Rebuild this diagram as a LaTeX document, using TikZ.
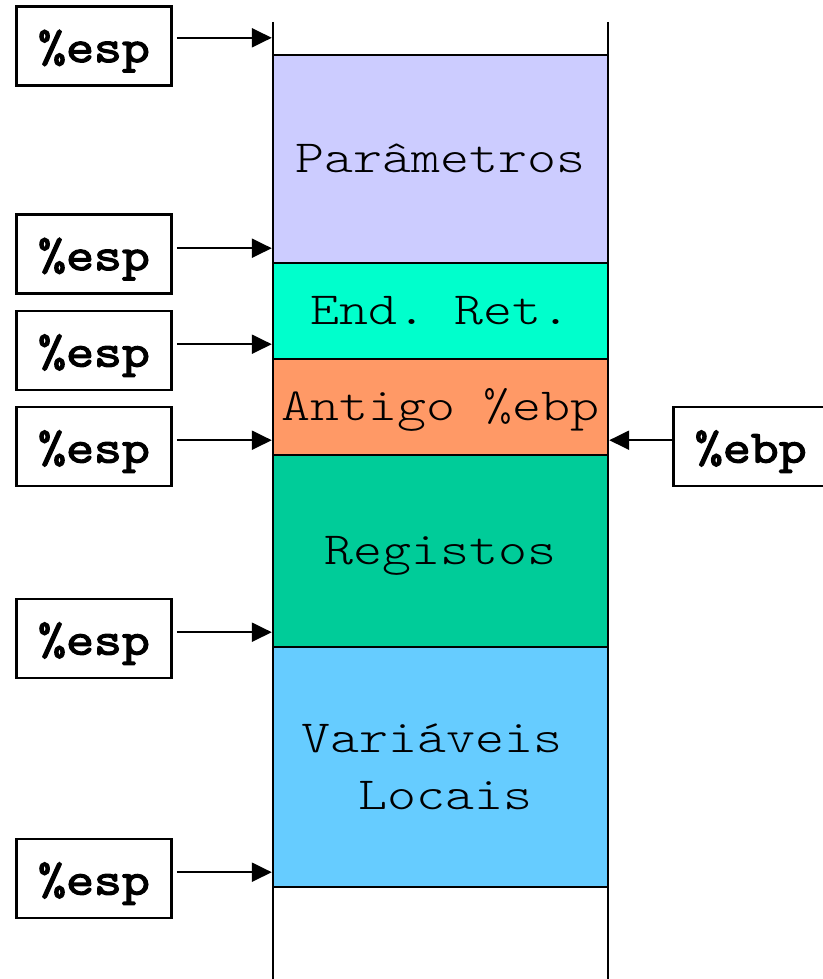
\documentclass[tikz,border=0pt]{standalone}
\usepackage{fontspec}
\newfontfamily\stacktt{Latin Modern Mono Light}[FakeStretch=1.2]
\newfontfamily\esptt{Latin Modern Mono}[FakeStretch=1.18, FakeBold=3]
\usetikzlibrary{arrows.meta}
\definecolor{cpar}{HTML}{CCCCFF}
\definecolor{cret}{HTML}{00FFCC}
\definecolor{cebp}{HTML}{FF9966}
\definecolor{creg}{HTML}{00CC99}
\definecolor{cvar}{HTML}{66CCFF}
\begin{document}
\frenchspacing
\begin{tikzpicture}[x=1pt,y=-1pt,
  regbox/.style={draw, line width=2.6pt, minimum width=155pt, minimum height=79pt, inner sep=0pt,
    font=\esptt\fontsize{46}{56}\selectfont, text height=40pt, text depth=8pt},
  blk/.style={draw, line width=2.4pt, minimum width=335pt, inner sep=0pt,
    font=\stacktt\fontsize{46}{56}\selectfont, text height=35pt, text depth=9pt},
  lbl/.style={inner sep=0pt, font=\stacktt\fontsize{46}{56}\selectfont},
  arr/.style={line width=2.2pt, -{Triangle[length=20pt,width=19pt]}},
  rail/.style={line width=2pt}]
\useasboundingbox (0,0) rectangle (822,979);
% stack blocks
\node[blk, fill=cpar, minimum height=208pt] (par) at (440.5,159) {Parâmetros};
\node[blk, fill=cret, minimum height=96pt]  (ret) at (440.5,311) {End. Ret.};
\node[blk, fill=cebp, minimum height=96pt]  (oeb) at (440.5,407) {Antigo \%ebp};
\node[blk, fill=creg, minimum height=192pt] (rgs) at (440.5,551) {Registos};
\node[blk, fill=cvar, minimum height=240pt] (var) at (440.5,767) {};
\node[lbl, anchor=base west] (v1) at (301,752) {Variáveis};
\node[lbl, anchor=base west] (v2) at (358,809) {Locais};
% rails
\coordinate (lt) at (273,22);
\coordinate (lb) at (273,979);
\coordinate (rt) at (608,22);
\coordinate (rb) at (608,979);
\draw[rail] (lt) -- (lb);
\draw[rail] (rt) -- (rb);
% register boxes
\node[regbox] (e1) at (94,46)    {\%esp};
\node[regbox] (e2) at (94,254)   {\%esp};
\node[regbox] (e3) at (94,350.5) {\%esp};
\node[regbox] (e4) at (94,446.5) {\%esp};
\node[regbox] (e5) at (94,638.5) {\%esp};
\node[regbox] (e6) at (94,878.5) {\%esp};
\node[regbox, anchor=west] (eb) at (672,446.5) {\%ebp};
% arrows
\coordinate (a1) at ([yshift=16pt]par.north west);
\coordinate (a2) at ([yshift=16pt]par.south west);
\coordinate (a3) at ([yshift=16pt]ret.south west);
\coordinate (a4) at ([yshift=16pt]oeb.south west);
\coordinate (a5) at ([yshift=16pt]rgs.south west);
\coordinate (a6) at ([yshift=16pt]var.south west);
\coordinate (b4) at ([yshift=16pt]oeb.south east);
\draw[arr] ([xshift=4pt]e1.east |- a1) -- (a1);
\draw[arr] ([xshift=4pt]e2.east |- a2) -- (a2);
\draw[arr] ([xshift=4pt]e3.east |- a3) -- (a3);
\draw[arr] ([xshift=4pt]e4.east |- a4) -- (a4);
\draw[arr] ([xshift=4pt]e5.east |- a5) -- (a5);
\draw[arr] ([xshift=4pt]e6.east |- a6) -- (a6);
\draw[arr] (eb.west |- b4) -- (b4);
\end{tikzpicture}
\end{document}
